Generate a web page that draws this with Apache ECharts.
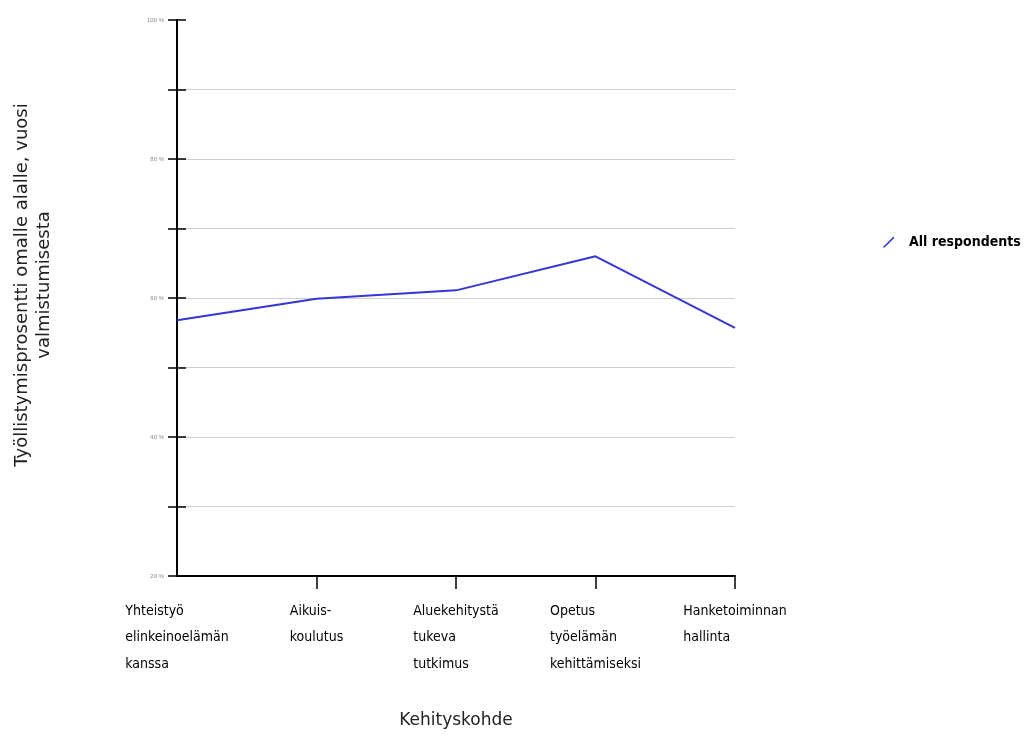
<!DOCTYPE html>
<html>
<head>
<meta charset="utf-8">
<script src="https://cdn.jsdelivr.net/npm/echarts@6/dist/echarts.min.js"></script>
<style>
html,body{margin:0;padding:0;background:#fff;}
#chart{width:1024px;height:737px;}
</style>
</head>
<body>
<div id="chart"></div>
<script>
var categories = [
  "Yhteistyö\nelinkeinoelämän\nkanssa",
  "Aikuis-\nkoulutus",
  "Aluekehitystä\ntukeva\ntutkimus",
  "Opetus\ntyöelämän\nkehittämiseksi",
  "Hanketoiminnan\nhallinta"
];
var seriesName = "All respondents";
var values = [56.8, 59.9, 61.1, 66.0, 55.7];
var yLabelValues = [20, 40, 60, 80, 100];
var yAxisTitle = "Työllistymisprosentti omalle alalle, vuosi\nvalmistumisesta";
var xAxisTitle = "Kehityskohde";

var chart = echarts.init(document.getElementById('chart'));
var grid = {left: 177, right: 289, top: 20, bottom: 161};
var option = {
  backgroundColor: '#fff',
  animation: false,
  grid: grid,
  legend: {
    left: 878, top: 230,
    itemWidth: 11, itemHeight: 11,
    data: [{name: seriesName, icon: 'path://M0,9.5 L9.5,0 L10,0.5 L10,1.5 L1.5,10 L0,10 Z'}],
    textStyle: {fontFamily: 'DejaVu Sans Condensed', fontSize: 14, fontWeight: 'bold', color: '#000', padding: [0,0,0,10]}
  },
  xAxis: {
    type: 'category',
    data: categories,
    boundaryGap: false,
    axisLine: {lineStyle: {color: '#000', width: 2}},
    axisTick: {length: 13, lineStyle: {color: '#000', width: 1.5}, interval: function (i) { return i > 0; }},
    axisLabel: {
      interval: 0, margin: 22, align: 'center',
      formatter: function (v) {
        return v.split('\n').map(function (s) { return '{a|' + s + '}'; }).join('\n');
      },
      rich: {a: {align: 'left', fontFamily: 'DejaVu Sans Condensed', fontSize: 14, lineHeight: 26.5, color: '#000'}}
    },
    name: xAxisTitle,
    nameLocation: 'middle',
    nameGap: 136,
    nameTextStyle: {fontFamily: 'DejaVu Sans', fontSize: 17, color: '#222'}
  },
  yAxis: [{
    type: 'value', min: 20, max: 100, interval: 10,
    axisLine: {show: true, lineStyle: {color: '#000', width: 2}},
    axisTick: {show: true, length: 9, lineStyle: {color: '#000', width: 1.5}},
    axisLabel: {
      margin: 13, fontSize: 6, color: '#888', fontFamily: 'Liberation Sans',
      formatter: function (v) { return yLabelValues.indexOf(v) >= 0 ? v + ' %' : ''; }
    },
    splitLine: {show: true, lineStyle: {color: ['#cfcfcf','#cfcfcf','#cfcfcf','#cfcfcf','#cfcfcf','#cfcfcf','#cfcfcf','#cfcfcf','rgba(0,0,0,0)'], width: 1}},
    name: yAxisTitle,
    nameLocation: 'middle',
    nameRotate: 90,
    nameGap: 122,
    nameTextStyle: {fontFamily: 'DejaVu Sans', fontSize: 18, lineHeight: 22, color: '#222', align: 'center', padding: [0, 0, 0, 26]}
  }, {
    type: 'value', min: 20, max: 100, interval: 10, position: 'left',
    axisLine: {show: false},
    axisTick: {show: true, inside: true, length: 9, lineStyle: {color: '#000', width: 1.5}},
    axisLabel: {show: false},
    splitLine: {show: false}
  }],
  series: [{
    name: seriesName,
    type: 'line',
    data: values,
    symbol: 'none',
    lineStyle: {color: '#3636d4', width: 2},
    itemStyle: {color: '#3636d4'}
  }]
};
chart.setOption(option);
</script>
</body>
</html>
